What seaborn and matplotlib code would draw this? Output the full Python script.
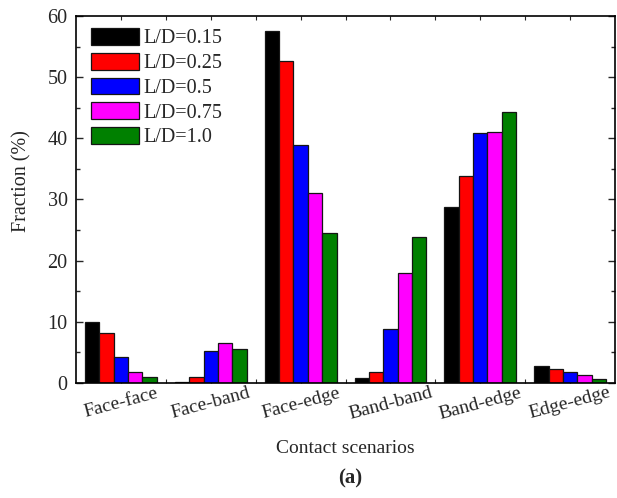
import matplotlib
matplotlib.use("Agg")
import matplotlib.pyplot as plt
import seaborn as sns
import pandas as pd
from matplotlib.ticker import MultipleLocator

categories = ["Face-face", "Face-band", "Face-edge", "Band-band", "Band-edge", "Edge-edge"]
series_labels = ["L/D=0.15", "L/D=0.25", "L/D=0.5", "L/D=0.75", "L/D=1.0"]
ld_015 = [10.0, 0.1, 57.6, 0.77, 28.7, 2.78]
ld_025 = [8.2, 1.03, 52.7, 1.75, 33.8, 2.24]
ld_05 = [4.2, 5.3, 38.9, 8.8, 40.8, 1.85]
ld_075 = [1.75, 6.5, 31.1, 18.0, 41.0, 1.26]
ld_10 = [0.93, 5.5, 24.6, 23.8, 44.3, 0.7]
colors = ["#000000", "#ff0000", "#0000ff", "#ff00ff", "#008000"]

series = [ld_015, ld_025, ld_05, ld_075, ld_10]
rows = []
for lab, vals in zip(series_labels, series):
    for c, v in zip(categories, vals):
        rows.append({"Scenario": c, "Series": lab, "Fraction": v})
df = pd.DataFrame(rows)

sns.set_style("ticks")
plt.rcParams["font.family"] = ["Liberation Serif", "DejaVu Serif"]

fig = plt.figure(figsize=(6.17, 4.98), dpi=100)
ax = fig.add_axes([0.1232, 0.2309, 0.8736, 0.737])

sns.barplot(data=df, x="Scenario", y="Fraction", hue="Series", order=categories,
            hue_order=series_labels, palette=colors, width=0.8, ax=ax,
            edgecolor="#151515", linewidth=0.9, saturation=1, errorbar=None)

ax.set_xlim(-0.5, 5.5)
ax.set_ylim(0, 60)
ax.yaxis.set_major_locator(MultipleLocator(10))
ax.yaxis.set_minor_locator(MultipleLocator(5))
ax.set_xticks(range(len(categories)))
ax.set_xticks([i + 0.5 for i in range(len(categories) - 1)], minor=True)
ax.set_xticklabels(categories, rotation=15, ha="center", fontsize=14)
ax.tick_params(axis="y", which="major", direction="in", length=5, width=1, labelsize=14.5, right=True, pad=6)
ax.tick_params(axis="y", which="minor", direction="in", length=3, width=1, right=True)
ax.tick_params(axis="x", which="both", direction="in", length=3, width=0.8, top=True, pad=1)
for s in ax.spines.values():
    s.set_visible(True)
    s.set_linewidth(1.2)
    s.set_color("black")

ax.set_xlabel("Contact scenarios", fontsize=14, labelpad=12)
ax.set_ylabel("Fraction (%)", fontsize=14.5)
ax.yaxis.set_label_coords(-0.082, 0.55)

leg = ax.legend(loc="upper left", frameon=False, fontsize=14.5, handlelength=2.4,
                handleheight=0.9, handletextpad=0.2, labelspacing=0.22,
                borderaxespad=0.2, bbox_to_anchor=(0.005, 1.0))

fig.text(0.567, 0.04, "(a)", fontsize=15, fontweight="bold", ha="center", va="center")

fig.savefig("out.png", dpi=100)
